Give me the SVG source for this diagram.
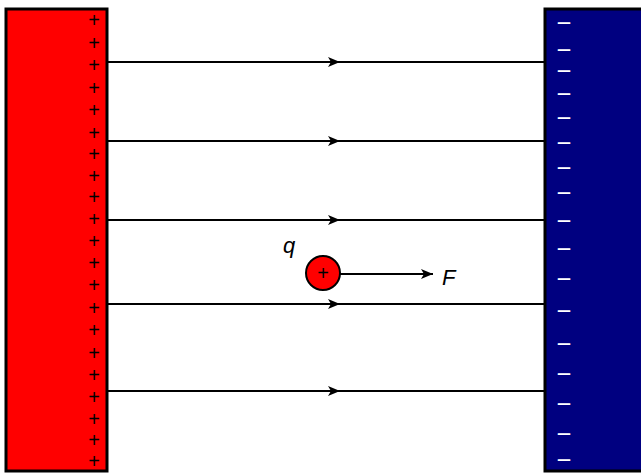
<svg xmlns="http://www.w3.org/2000/svg" width="641" height="473" viewBox="0 0 641 473">
<style>
.plate{stroke:#000;stroke-width:3}
.pos{font-family:"Liberation Sans",Arial,sans-serif;font-size:20px;fill:#000;text-anchor:middle}
.neg{font-family:"Liberation Sans",Arial,sans-serif;font-size:18px;font-weight:bold;fill:#fff}
.field{stroke:#000;stroke-width:2;fill:none}
.lbl{font-family:"Liberation Sans",Arial,sans-serif;font-style:italic;font-size:22px;fill:#000}
</style>
<defs>
<marker id="ah" viewBox="0 0 12 10" refX="12" refY="5" markerWidth="12" markerHeight="10" markerUnits="userSpaceOnUse" orient="auto">
<path d="M0,0 L12,5 L0,10 L3,5 Z" fill="#000"/>
</marker>
</defs>
<g id="positive-plate">
<rect class="plate" x="6" y="9" width="101" height="462" fill="#ff0000"/>
<text class="pos" x="94" y="27">+</text>
<text class="pos" x="94" y="50">+</text>
<text class="pos" x="94" y="72">+</text>
<text class="pos" x="94" y="95">+</text>
<text class="pos" x="94" y="117">+</text>
<text class="pos" x="94" y="140">+</text>
<text class="pos" x="94" y="161">+</text>
<text class="pos" x="94" y="183">+</text>
<text class="pos" x="94" y="204">+</text>
<text class="pos" x="94" y="226">+</text>
<text class="pos" x="94" y="248">+</text>
<text class="pos" x="94" y="270">+</text>
<text class="pos" x="94" y="292">+</text>
<text class="pos" x="94" y="315">+</text>
<text class="pos" x="94" y="337">+</text>
<text class="pos" x="94" y="360">+</text>
<text class="pos" x="94" y="382">+</text>
<text class="pos" x="94" y="404">+</text>
<text class="pos" x="94" y="426">+</text>
<text class="pos" x="94" y="447">+</text>
<text class="pos" x="94" y="468">+</text>
</g>
<g id="negative-plate">
<rect class="plate" x="545" y="9" width="100" height="462" fill="#000080"/>
<text class="neg" x="557" y="28" textLength="14" lengthAdjust="spacingAndGlyphs">–</text>
<text class="neg" x="557" y="55" textLength="14" lengthAdjust="spacingAndGlyphs">–</text>
<text class="neg" x="557" y="76" textLength="14" lengthAdjust="spacingAndGlyphs">–</text>
<text class="neg" x="557" y="99" textLength="14" lengthAdjust="spacingAndGlyphs">–</text>
<text class="neg" x="557" y="123" textLength="14" lengthAdjust="spacingAndGlyphs">–</text>
<text class="neg" x="557" y="148" textLength="14" lengthAdjust="spacingAndGlyphs">–</text>
<text class="neg" x="557" y="173" textLength="14" lengthAdjust="spacingAndGlyphs">–</text>
<text class="neg" x="557" y="198" textLength="14" lengthAdjust="spacingAndGlyphs">–</text>
<text class="neg" x="557" y="226" textLength="14" lengthAdjust="spacingAndGlyphs">–</text>
<text class="neg" x="557" y="254" textLength="14" lengthAdjust="spacingAndGlyphs">–</text>
<text class="neg" x="557" y="284" textLength="14" lengthAdjust="spacingAndGlyphs">–</text>
<text class="neg" x="557" y="316" textLength="14" lengthAdjust="spacingAndGlyphs">–</text>
<text class="neg" x="557" y="349" textLength="14" lengthAdjust="spacingAndGlyphs">–</text>
<text class="neg" x="557" y="379" textLength="14" lengthAdjust="spacingAndGlyphs">–</text>
<text class="neg" x="557" y="409" textLength="14" lengthAdjust="spacingAndGlyphs">–</text>
<text class="neg" x="557" y="439" textLength="14" lengthAdjust="spacingAndGlyphs">–</text>
<text class="neg" x="557" y="465" textLength="14" lengthAdjust="spacingAndGlyphs">–</text>
</g>
<g id="connectors">
<path class="field" d="M107,62 H545"/><path class="field" d="M107,62 H340" marker-end="url(#ah)"/>
<path class="field" d="M107,141 H545"/><path class="field" d="M107,141 H340" marker-end="url(#ah)"/>
<path class="field" d="M107,220 H545"/><path class="field" d="M107,220 H340" marker-end="url(#ah)"/>
<path class="field" d="M107,304 H545"/><path class="field" d="M107,304 H340" marker-end="url(#ah)"/>
<path class="field" d="M107,391 H545"/><path class="field" d="M107,391 H340" marker-end="url(#ah)"/>
<path class="field" d="M340,274 H433" marker-end="url(#ah)"/>
</g>
<g id="charge">
<circle cx="323" cy="273" r="17" fill="#ff0000" stroke="#000" stroke-width="2"/>
<text x="323" y="280" font-family="Liberation Sans, Arial, sans-serif" font-size="20" text-anchor="middle" fill="#000">+</text>
<text class="lbl" x="283" y="253">q</text>
</g>
<g id="force-label">
<text class="lbl" x="442" y="285">F</text>
</g>
</svg>
